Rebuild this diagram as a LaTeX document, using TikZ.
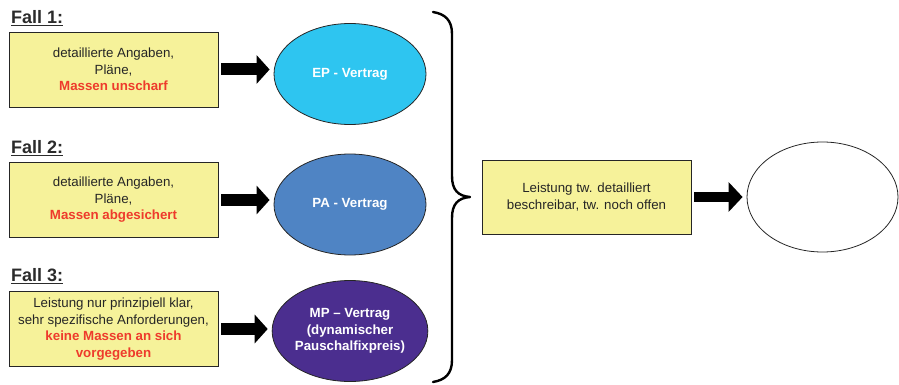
\documentclass[tikz,border=0pt]{standalone}
\usepackage{fontspec}
\setmainfont{Liberation Sans}
\usetikzlibrary{shapes.geometric,arrows.meta}
\definecolor{boxyellow}{HTML}{F6F29A}
\definecolor{txtred}{HTML}{EE3B2C}
\definecolor{epcyan}{HTML}{2EC5F0}
\definecolor{pablue}{HTML}{4F84C4}
\definecolor{mppurple}{HTML}{4B2E8F}
\definecolor{labelgray}{HTML}{2B2B2B}
\tikzset{
  x=1pt,y=-1pt,
  body/.style={font=\fontsize{13.3}{16.5}\selectfont, align=center, inner sep=0pt},
  infobox/.style={body, draw=black!85, line width=0.8pt, fill=boxyellow, minimum width=209pt, minimum height=75pt, text=black!85},
  contract/.style={body, ellipse, draw=black!85, line width=0.8pt, minimum width=152pt, minimum height=101pt, text=white, font=\fontsize{13.3}{16.5}\selectfont\bfseries},
  falllabel/.style={font=\fontsize{18}{20}\selectfont\bfseries, text=labelgray, inner sep=0pt, anchor=west},
  blockarrow/.style={line width=12pt, -{Triangle[length=13pt,width=28pt]}, shorten <=3pt, shorten >=4pt},
  bracestyle/.style={line width=2.4pt, line cap=round, line join=round}
}
\newcommand{\redb}[1]{\textcolor{txtred}{\bfseries #1}}
\begin{document}
\begin{tikzpicture}
\useasboundingbox (0,0) rectangle (899,385);

% Fall labels
\node[falllabel] (f1) at (11,18) {\underline{Fall 1:}};
\node[falllabel] (f2) at (11,148) {\underline{Fall 2:}};
\node[falllabel] (f3) at (11,276) {\underline{Fall 3:}};

% boxes
\node[infobox] (b1) at (113.5,69.5) {detaillierte Angaben,\\Pläne,\\\redb{Massen unscharf}};
\node[infobox] (b2) at (113.5,200) {detaillierte Angaben,\\Pläne,\\\redb{Massen abgesichert}};
\node[infobox] (b3) at (113.5,329) {Leistung nur prinzipiell klar,\\sehr spezifische Anforderungen,\\\redb{keine Massen an sich}\\\redb{vorgegeben}};

% ellipses
\node[contract, fill=epcyan] (e1) at (350,74) {EP - Vertrag};
\node[contract, fill=pablue] (e2) at (350,204.5) {PA - Vertrag};
\node[contract, fill=mppurple] (e3) at (350,331) {MP – Vertrag\\(dynamischer\\Pauschalfixpreis)};

% arrows
\draw[blockarrow] (b1.east) -- (b1.east -| e1.west);
\draw[blockarrow] (b2.east) -- (b2.east -| e2.west);
\draw[blockarrow] (b3.east) -- (b3.east -| e3.west);

% brace
\coordinate (brtop) at (433,12);
\coordinate (brtip) at (470,197);
\coordinate (brbot) at (433,382);
\draw[bracestyle] (brtop) .. controls (445,14) and (452,20) .. (452,34)
  -- (452,176) .. controls (452,190) and (458,196) .. (brtip)
  .. controls (458,198) and (452,204) .. (452,218)
  -- (452,360) .. controls (452,374) and (445,380) .. (brbot);

% right side
\node[infobox, minimum width=209pt, minimum height=74pt] (b4) at (586.5,197) {Leistung tw. detailliert\\beschreibar, tw. noch offen};
\node[body, ellipse, draw=black!85, line width=0.8pt, fill=white, minimum width=151pt, minimum height=110pt] (e4) at (822.5,197) {};
\draw[blockarrow, line width=10pt, -{Triangle[length=14pt,width=29pt]}] (b4.east) -- (e4.west);
\end{tikzpicture}
\end{document}
